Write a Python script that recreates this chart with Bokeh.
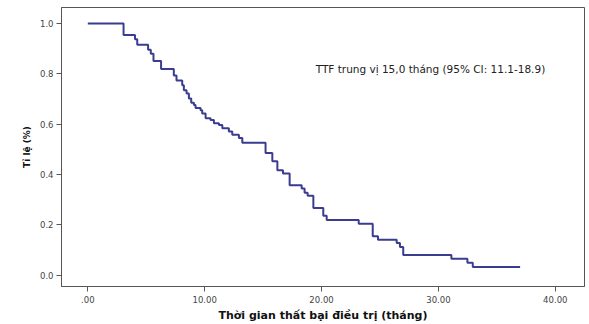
from bokeh.plotting import figure
from bokeh.models import FixedTicker, Range1d, ColumnDataSource, Label
from bokeh.embed import file_html
from bokeh.resources import INLINE

# Kaplan-Meier step points (time in months, survival proportion)
time_months = [0.0, 3.06, 4.04, 4.23, 5.16, 5.39, 5.62, 6.27, 7.36, 7.59, 8.08,
               8.22, 8.45, 8.65, 8.85, 9.08, 9.22, 9.65, 9.79, 10.08, 10.50,
               10.79, 11.22, 11.51, 12.07, 12.36, 12.93, 13.22, 15.21, 15.79,
               16.22, 16.70, 17.27, 18.30, 18.55, 18.81, 19.30, 20.15, 20.44,
               23.18, 24.38, 24.83, 26.43, 26.71, 26.99, 31.11, 32.48, 32.94,
               36.99]
survival = [1.000, 0.955, 0.938, 0.916, 0.896, 0.880, 0.851, 0.820, 0.794,
            0.774, 0.755, 0.735, 0.722, 0.702, 0.685, 0.676, 0.665, 0.656,
            0.643, 0.624, 0.617, 0.604, 0.597, 0.584, 0.571, 0.558, 0.545,
            0.526, 0.486, 0.453, 0.417, 0.404, 0.357, 0.345, 0.328, 0.316,
            0.267, 0.236, 0.219, 0.204, 0.155, 0.141, 0.128, 0.112, 0.080,
            0.065, 0.049, 0.033, 0.033]

x_ticks = [0, 10, 20, 30, 40]
x_tick_labels = [".00", "10.00", "20.00", "30.00", "40.00"]
y_ticks = [0.0, 0.2, 0.4, 0.6, 0.8, 1.0]
y_tick_labels = ["0.0", "0.2", "0.4", "0.6", "0.8", "1.0"]

x_title = "Thời gian thất bại điều trị (tháng)"
y_title = "Tỉ lệ (%)"
note = "TTF trung vị 15,0 tháng (95% CI: 11.1-18.9)"

p = figure(width=589, height=324, output_backend="svg", toolbar_location=None,
           x_range=Range1d(-2.25, 42.5), y_range=Range1d(-0.045, 1.064),
           min_border_left=61, min_border_right=5, min_border_top=7,
           min_border_bottom=34)

src = ColumnDataSource(dict(t=time_months, s=survival))
p.step("t", "s", source=src, mode="after", line_color="#3a3d8f", line_width=2)

p.add_layout(Label(x=19.5, y=0.818, text=note, text_font="DejaVu Sans",
                   text_font_size="10.5px", text_color="#222222",
                   text_baseline="middle", text_align="left"))

p.xgrid.visible = False
p.ygrid.visible = False
p.outline_line_color = "#555555"
p.outline_line_width = 1

for ax in (p.xaxis[0], p.yaxis[0]):
    ax.axis_line_color = "#555555"
    ax.major_tick_line_color = "#555555"
    ax.major_tick_out = 5
    ax.major_tick_in = 0
    ax.minor_tick_line_color = None
    ax.major_label_text_font = "DejaVu Sans"
    ax.major_label_text_font_size = "8.5px"
    ax.major_label_text_color = "#444444"
    ax.axis_label_text_font = "DejaVu Sans"
    ax.axis_label_text_font_style = "bold"
    ax.axis_label_text_color = "#111111"

p.xaxis[0].ticker = FixedTicker(ticks=x_ticks)
p.xaxis[0].major_label_overrides = dict(zip(x_ticks, x_tick_labels))
p.xaxis[0].axis_label = x_title
p.xaxis[0].axis_label_text_font_size = "11px"
p.xaxis[0].major_label_standoff = 4
p.xaxis[0].axis_label_standoff = 3

p.yaxis[0].ticker = FixedTicker(ticks=y_ticks)
p.yaxis[0].major_label_overrides = {v: l for v, l in zip(y_ticks, y_tick_labels)}
p.yaxis[0].axis_label = y_title
p.yaxis[0].axis_label_text_font_size = "9px"
p.yaxis[0].major_label_standoff = 3
p.yaxis[0].axis_label_standoff = 5

open("out.html", "w").write(file_html(p, INLINE))
